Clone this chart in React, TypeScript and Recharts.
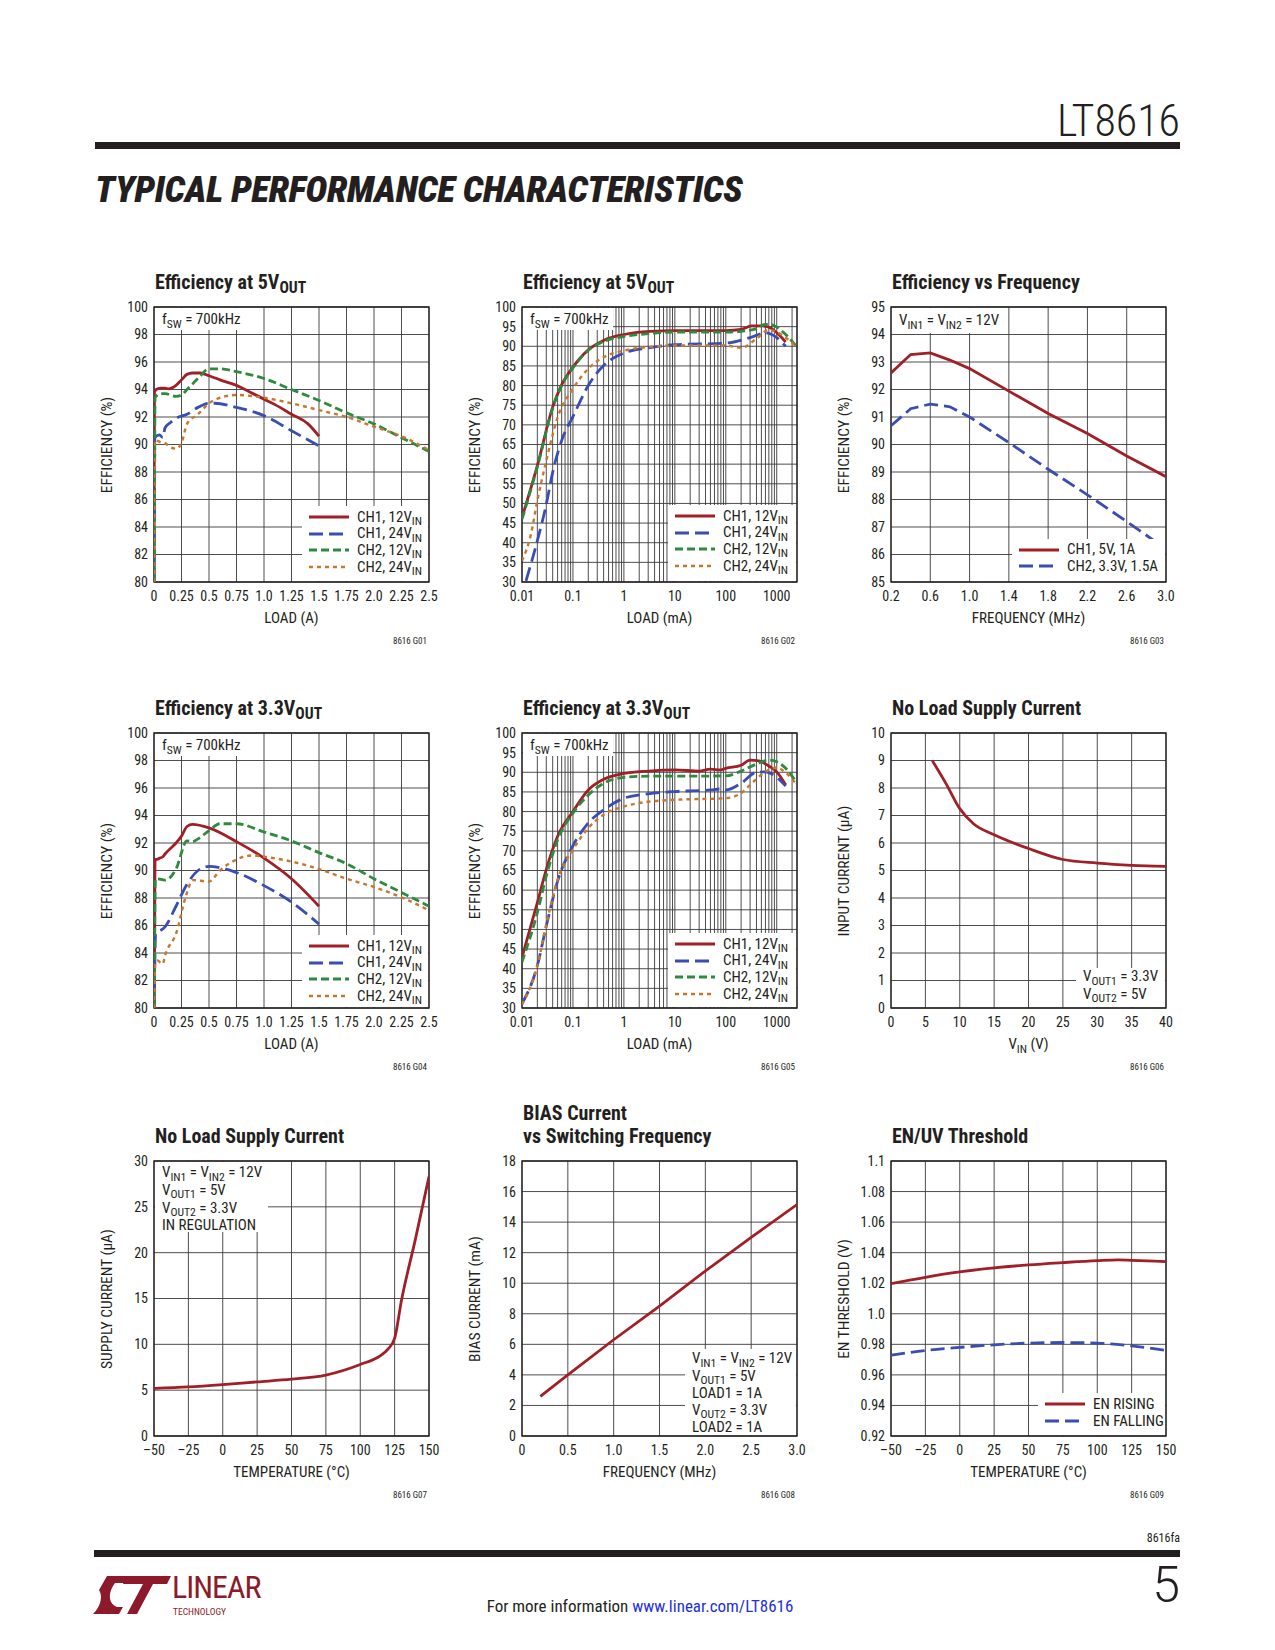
import React from "react";
import { LineChart, Line, XAxis, YAxis, CartesianGrid, Legend, ReferenceArea } from "recharts";

const FONT = "'Liberation Sans Narrow', 'Arial Narrow', 'Roboto Condensed', 'DejaVu Sans Condensed', sans-serif";
const INK = "#231f20";
const GRID = "#3a3a3a";
const RED = "#a11f27";
const BLUE = "#3a4db2";
const GREEN = "#2f8a40";
const ORANGE = "#c8772e";

type Pt = [number, number];

// G01 efficiency at 5Vout, linear load (A)
const g01Ch1Vin12: Pt[] = [[0, 80], [0.004, 93.8], [0.02, 94.0], [0.06, 94.1], [0.1, 94.1], [0.13, 94.05], [0.2, 94.3], [0.25, 94.7], [0.3, 95.1], [0.35, 95.2], [0.42, 95.2], [0.5, 95.0], [0.6, 94.7], [0.75, 94.3], [0.9, 93.7], [1.0, 93.3], [1.1, 92.9], [1.25, 92.2], [1.4, 91.5], [1.5, 90.6]];
const g01Ch1Vin24: Pt[] = [[0.002, 80], [0.008, 90.5], [0.02, 90.6], [0.05, 90.7], [0.08, 90.5], [0.1, 91.2], [0.15, 91.6], [0.2, 91.9], [0.3, 92.2], [0.4, 92.7], [0.5, 93.0], [0.55, 93.0], [0.75, 92.7], [1.0, 92.1], [1.25, 91.0], [1.5, 89.9]];
const g01Ch2Vin12: Pt[] = [[0.003, 80], [0.01, 93.4], [0.03, 93.6], [0.06, 93.7], [0.1, 93.7], [0.2, 93.5], [0.25, 93.6], [0.3, 94.0], [0.4, 94.8], [0.5, 95.5], [0.6, 95.5], [0.75, 95.3], [1.0, 94.8], [1.25, 94.0], [1.5, 93.2], [1.75, 92.3], [2.0, 91.5], [2.25, 90.5], [2.5, 89.5]];
const g01Ch2Vin24: Pt[] = [[0.001, 80], [0.006, 90.3], [0.02, 90.3], [0.05, 90.2], [0.1, 90.1], [0.15, 89.8], [0.2, 89.7], [0.25, 90.1], [0.3, 91.5], [0.4, 92.2], [0.5, 93.0], [0.6, 93.4], [0.75, 93.6], [1.0, 93.4], [1.25, 93.0], [1.5, 92.5], [1.75, 92.0], [2.0, 91.3], [2.25, 90.6], [2.5, 89.6]];

// G02 efficiency at 5Vout, log load (mA)
const g02Ch1Vin12: Pt[] = [[0.01, 46.4], [0.02, 59.6], [0.04, 74.5], [0.057, 79.6], [0.1, 84.7], [0.2, 89.1], [0.4, 91.5], [1, 93.0], [3.3, 93.8], [10, 94.0], [100, 94.0], [200, 94.3], [320, 95.2], [530, 95.2], [800, 94.5], [1130, 92.8], [1500, 91.1]];
const g02Ch1Vin24: Pt[] = [[0.012, 30.3], [0.02, 40.5], [0.03, 49.8], [0.04, 57.9], [0.06, 66], [0.1, 72.1], [0.2, 80.0], [0.4, 85.1], [1, 88.3], [3, 89.6], [10, 90.4], [100, 90.8], [300, 92.2], [600, 93.4], [1000, 92.2], [1500, 90.0]];
const g02Ch2Vin12: Pt[] = [[0.01, 46], [0.02, 59.3], [0.04, 74.2], [0.06, 80.0], [0.1, 84.5], [0.2, 89.0], [0.4, 91.2], [1, 92.5], [3, 93.2], [10, 93.6], [100, 93.6], [200, 93.8], [400, 94.5], [600, 95.6], [800, 95.5], [1000, 94.9], [1500, 93.0], [2500, 89.8]];
const g02Ch2Vin24: Pt[] = [[0.01, 35.4], [0.015, 42.2], [0.02, 50.7], [0.03, 60.9], [0.05, 71.9], [0.1, 79.2], [0.2, 84.3], [0.4, 87.2], [1, 88.9], [3, 89.8], [10, 90.2], [100, 90.2], [200, 89.6], [400, 91.9], [700, 94.2], [1000, 93.6], [2500, 89.8]];

// G03 efficiency vs frequency (MHz)
const g03Ch1: Pt[] = [[0.2, 92.6], [0.4, 93.27], [0.6, 93.33], [0.8, 93.07], [1.0, 92.76], [1.4, 91.94], [1.8, 91.13], [2.2, 90.4], [2.6, 89.58], [3.0, 88.83]];
const g03Ch2: Pt[] = [[0.2, 90.68], [0.4, 91.3], [0.6, 91.47], [0.8, 91.37], [1.0, 91.0], [1.4, 90.07], [1.8, 89.1], [2.2, 88.17], [2.6, 87.2], [3.0, 86.2]];

// G04 efficiency at 3.3Vout, linear load (A)
const g04Ch1Vin12: Pt[] = [[0.004, 80], [0.01, 90.8], [0.02, 90.8], [0.05, 90.9], [0.08, 91.0], [0.1, 91.2], [0.2, 92.0], [0.25, 92.5], [0.3, 93.2], [0.35, 93.35], [0.5, 93.1], [0.75, 92.1], [1.0, 90.9], [1.25, 89.4], [1.5, 87.4]];
const g04Ch1Vin24: Pt[] = [[0.002, 80], [0.015, 85.4], [0.03, 85.5], [0.1, 85.9], [0.2, 87.4], [0.3, 89.0], [0.4, 90.0], [0.5, 90.3], [0.6, 90.2], [0.75, 89.85], [1.0, 88.9], [1.25, 87.7], [1.5, 86.1]];
const g04Ch2Vin12: Pt[] = [[0.003, 80], [0.012, 89.4], [0.03, 89.4], [0.1, 89.3], [0.2, 90.1], [0.3, 92.15], [0.35, 92.1], [0.4, 92.3], [0.5, 92.9], [0.6, 93.4], [0.75, 93.4], [1.0, 92.8], [1.25, 92.15], [1.5, 91.3], [1.75, 90.5], [2.0, 89.4], [2.25, 88.4], [2.5, 87.4]];
const g04Ch2Vin24: Pt[] = [[0.001, 80], [0.01, 83.2], [0.03, 83.45], [0.08, 83.2], [0.1, 83.8], [0.2, 85.4], [0.3, 88.4], [0.35, 89.3], [0.5, 89.2], [0.6, 90.0], [0.75, 90.8], [0.9, 91.1], [1.0, 91.0], [1.25, 90.65], [1.5, 90.1], [1.75, 89.4], [2.0, 88.8], [2.25, 88.05], [2.5, 87.1]];

// G05 efficiency at 3.3Vout, log load (mA)
const g05Ch1Vin12: Pt[] = [[0.01, 42.9], [0.02, 56.8], [0.03, 65.3], [0.05, 73.7], [0.1, 80.0], [0.2, 85.5], [0.4, 88.2], [1, 89.7], [3, 90.3], [10, 90.6], [30, 90.3], [50, 90.8], [80, 90.6], [100, 91.0], [200, 91.8], [300, 93.1], [450, 92.9], [700, 91.6], [1000, 90.1], [1500, 86.8]];
const g05Ch1Vin24: Pt[] = [[0.01, 31.1], [0.02, 40.8], [0.03, 50.9], [0.05, 62.3], [0.1, 71.3], [0.2, 77.1], [0.4, 80.4], [1, 83.4], [3, 84.5], [10, 85.1], [50, 85.5], [80, 85.75], [100, 85.5], [200, 87.2], [400, 90.0], [600, 90.1], [1000, 88.7], [1500, 86.5]];
const g05Ch2Vin12: Pt[] = [[0.01, 41.7], [0.02, 54.3], [0.03, 63.6], [0.05, 72.8], [0.1, 79.6], [0.2, 84.2], [0.4, 87.2], [1, 88.7], [3, 89.0], [10, 89.0], [100, 89.1], [200, 90.3], [400, 92.1], [700, 93.1], [1000, 92.7], [1500, 91.0], [2500, 87.2]];
const g05Ch2Vin24: Pt[] = [[0.01, 30.9], [0.02, 40.8], [0.03, 51.3], [0.05, 62.7], [0.1, 70.3], [0.2, 75.8], [0.4, 79.2], [1, 81.3], [3, 82.5], [10, 83.0], [100, 83.4], [200, 84.7], [300, 86.8], [600, 90.1], [1000, 91.2], [1500, 89.9], [2500, 86.8]];

// G06 no load supply current vs VIN
const g06Iq: Pt[] = [[6, 9.0], [8, 8.16], [10, 7.25], [12, 6.7], [15, 6.3], [20, 5.8], [25, 5.4], [30, 5.27], [35, 5.19], [40, 5.15]];

// G07 no load supply current vs temperature
const g07Iq: Pt[] = [[-50, 5.2], [-25, 5.35], [0, 5.6], [25, 5.9], [50, 6.2], [75, 6.65], [100, 7.8], [115, 8.8], [120, 9.45], [125, 10.65], [130, 14.8], [140, 21.4], [150, 28.3]];

// G08 bias current vs switching frequency
const g08Bias: Pt[] = [[0.2, 2.6], [0.5, 4.0], [1.0, 6.3], [1.5, 8.5], [2.0, 10.8], [2.5, 13.0], [3.0, 15.15]];

// G09 EN/UV threshold vs temperature
const g09Rising: Pt[] = [[-50, 1.0197], [-25, 1.0239], [0, 1.0274], [25, 1.030], [50, 1.032], [75, 1.0335], [100, 1.0348], [115, 1.0353], [125, 1.035], [150, 1.0342]];
const g09Falling: Pt[] = [[-50, 0.9729], [-25, 0.976], [0, 0.978], [25, 0.9797], [50, 0.9808], [75, 0.9812], [100, 0.9808], [125, 0.979], [150, 0.976]];

// tick values
const loadTicks = [0, 0.25, 0.5, 0.75, 1, 1.25, 1.5, 1.75, 2, 2.25, 2.5];
const eff80Ticks = [80, 82, 84, 86, 88, 90, 92, 94, 96, 98, 100];
const eff30Ticks = [30, 35, 40, 45, 50, 55, 60, 65, 70, 75, 80, 85, 90, 95, 100];
const decades = [0.01, 0.1, 1, 10, 100, 1000];
const logTicks = decades.flatMap((d) => [1, 2, 3, 4, 5, 6, 7, 8, 9].map((k) => +(k * d).toPrecision(3))).filter((v) => v <= 2500);
const fswTicks = [0.2, 0.6, 1.0, 1.4, 1.8, 2.2, 2.6, 3.0];
const eff85Ticks = [85, 86, 87, 88, 89, 90, 91, 92, 93, 94, 95];
const vinTicks = [0, 5, 10, 15, 20, 25, 30, 35, 40];
const iq10Ticks = [0, 1, 2, 3, 4, 5, 6, 7, 8, 9, 10];
const tempTicks = [-50, -25, 0, 25, 50, 75, 100, 125, 150];
const iq30Ticks = [0, 5, 10, 15, 20, 25, 30];
const freq3Ticks = [0, 0.5, 1.0, 1.5, 2.0, 2.5, 3.0];
const biasTicks = [0, 2, 4, 6, 8, 10, 12, 14, 16, 18];
const enTicks = [0.92, 0.94, 0.96, 0.98, 1.0, 1.02, 1.04, 1.06, 1.08, 1.1];

const PW = 275;
const PH = 275;

const Sub = ({ children }: { children: React.ReactNode }) => (
  <span style={{ fontSize: "0.78em", position: "relative", top: "0.3em" }}>{children}</span>
);

type Series = { name: string; sub: string; data: Pt[]; color: string; dash?: string; width?: number; curve?: "monotone" | "linear" };
type Box = { x: number; y: number; w: number; h: number };
type Note = Box & { lines: React.ReactNode[]; lh: number; pad: number };

type PanelProps = {
  left: number;
  top: number;
  title: React.ReactNode[];
  code: string;
  xLabel: React.ReactNode;
  yLabel: string;
  xDomain: [number, number];
  yDomain: [number, number];
  xTicks: number[];
  yTicks: number[];
  xFmt?: (v: number) => string;
  yFmt?: (v: number) => string;
  log?: boolean;
  series: Series[];
  legend?: Box & { row: number };
  note?: Note;
};

const rows = (pts: Pt[]) => pts.map(([x, y]) => ({ x, y }));
const tickStyle = { fill: INK, fontSize: 14, fontFamily: FONT };

const ch = {
  c1v12: { name: "CH1, 12V", sub: "IN", color: RED, width: 2.8 },
  c1v24: { name: "CH1, 24V", sub: "IN", color: BLUE, width: 2.8, dash: "14 6" },
  c2v12: { name: "CH2, 12V", sub: "IN", color: GREEN, width: 2.8, dash: "8 4" },
  c2v24: { name: "CH2, 24V", sub: "IN", color: ORANGE, width: 2.4, dash: "4 4" },
};

function LegendBox({ items, row, w, h }: { items: Series[]; row: number; w: number; h: number }) {
  return (
    <div style={{ background: "#fff", width: w, height: h, boxSizing: "border-box", paddingTop: 2.7, paddingLeft: 7, fontFamily: FONT, color: INK }}>
      {items.map((s) => (
        <div key={s.name + s.sub} style={{ display: "flex", alignItems: "center", height: row, whiteSpace: "nowrap" }}>
          <svg width={40} height={8} style={{ flex: "none" }}>
            <line x1={0} y1={4} x2={40} y2={4} stroke={s.color} strokeWidth={s.width ?? 2.8} strokeDasharray={s.dash} />
          </svg>
          <span style={{ marginLeft: 8, fontSize: 15, lineHeight: 1 }}>
            {s.name}
            <Sub>{s.sub}</Sub>
          </span>
        </div>
      ))}
    </div>
  );
}

function Panel(p: PanelProps) {
  const { left, top } = p;
  const n = p.title.length;
  return (
    <>
      <div style={{ position: "absolute", left: left + 1, top: top - 36.5 - (n - 1) * 23, font: `bold 20px/23px ${FONT}`, color: INK, whiteSpace: "nowrap" }}>
        {p.title.map((t, i) => (
          <div key={i}>{t}</div>
        ))}
      </div>
      <div style={{ position: "absolute", left: left - 60, top: top - 10 }}>
        <LineChart width={60 + PW + 12} height={10 + PH + 40} margin={{ top: 10, right: 12, bottom: 0, left: 0 }}>
          <CartesianGrid stroke={GRID} strokeWidth={0.9} />
          <XAxis
            type="number"
            dataKey="x"
            scale={p.log ? "log" : "linear"}
            domain={p.xDomain}
            ticks={p.xTicks}
            tickFormatter={p.xFmt}
            interval={0}
            allowDataOverflow
            height={40}
            axisLine={false}
            tickLine={false}
            tickSize={4}
            tickMargin={5}
            tick={tickStyle}
          />
          <YAxis
            type="number"
            domain={p.yDomain}
            ticks={p.yTicks}
            tickFormatter={p.yFmt}
            interval={0}
            allowDataOverflow
            width={60}
            axisLine={false}
            tickLine={false}
            tickSize={4}
            tickMargin={2}
            tick={tickStyle}
          />
          <ReferenceArea x1={p.xDomain[0]} x2={p.xDomain[1]} y1={p.yDomain[0]} y2={p.yDomain[1]} fill="none" stroke={INK} strokeWidth={1.3} />
          {p.series.map((s) => (
            <Line
              key={s.name + s.sub}
              name={s.name + s.sub}
              data={rows(s.data)}
              dataKey="y"
              type={s.curve ?? "monotone"}
              stroke={s.color}
              strokeWidth={s.width ?? 2.8}
              strokeDasharray={s.dash}
              dot={false}
              activeDot={false}
              isAnimationActive={false}
            />
          ))}
          {p.legend && (
            <Legend
              layout="vertical"
              align="center"
              verticalAlign="middle"
              wrapperStyle={{ left: 60 + p.legend.x, top: 10 + p.legend.y, width: p.legend.w, height: p.legend.h }}
              content={() => <LegendBox items={p.series} row={p.legend!.row} w={p.legend!.w} h={p.legend!.h} />}
            />
          )}
        </LineChart>
      </div>
      {p.note && (
        <div
          style={{
            position: "absolute",
            left: left + p.note.x,
            top: top + p.note.y,
            width: p.note.w,
            height: p.note.h,
            boxSizing: "border-box",
            background: "#fff",
            paddingLeft: 7,
            paddingTop: p.note.pad,
            font: `15px/${p.note.lh}px ${FONT}`,
            color: INK,
            whiteSpace: "nowrap",
          }}
        >
          {p.note.lines.map((l, i) => (
            <div key={i}>{l}</div>
          ))}
        </div>
      )}
      <div style={{ position: "absolute", left: left + PW / 2, top: top + PH + 36, transform: "translate(-50%, -50%)", font: `15px ${FONT}`, color: INK, whiteSpace: "nowrap" }}>
        {p.xLabel}
      </div>
      <div style={{ position: "absolute", left: left - 47, top: top + PH / 2, transform: "translate(-50%, -50%) rotate(-90deg)", font: `15.5px ${FONT}`, color: INK, whiteSpace: "nowrap" }}>
        {p.yLabel}
      </div>
      <div style={{ position: "absolute", left: left + PW - 62, width: 60, textAlign: "right", top: top + PH + 54, font: `9px ${FONT}`, color: INK }}>
        {p.code}
      </div>
    </>
  );
}

const loadFmt = (v: number) => (v === 0 ? "0" : Number.isInteger(v * 2) ? v.toFixed(1) : String(v));
const logFmt = (v: number) => (decades.includes(v) ? String(v) : "");
const fix1 = (v: number) => v.toFixed(1);
const freqFmt = (v: number) => (v === 0 ? "0" : v.toFixed(1));
const tempFmt = (v: number) => (v < 0 ? "\u2013" + Math.abs(v) : String(v));
const enFmt = (v: number) => {
  const s = v.toFixed(2);
  return s === "1.00" ? "1.0" : s === "1.10" ? "1.1" : s;
};

const fswNote: Note = { x: 1, y: 1, w: 88, h: 22, lh: 22, pad: 0, lines: [<>f<Sub>SW</Sub> = 700kHz</>] };
const effLegend = { x: 148, y: 199, w: 126, h: 75, row: 16.7 };

export default function App() {
  return (
    <div style={{ position: "absolute", left: 0, top: 0, width: 1275, height: 1650, background: "#fff", overflow: "hidden", fontFamily: FONT, color: INK }}>
      <div style={{ position: "absolute", right: 95, top: 99, font: `300 44px/44px ${FONT}`, color: INK }}>LT8616</div>
      <div style={{ position: "absolute", left: 95, top: 142, width: 1085, height: 7, background: INK }} />
      <div style={{ position: "absolute", left: 95, top: 171, font: `italic 900 37px/37px ${FONT}`, color: INK, whiteSpace: "nowrap", letterSpacing: -0.3 }}>
        TYPICAL PERFORMANCE CHARACTERISTICS
      </div>

      <Panel
        left={154}
        top={307}
        title={[<>Efficiency at 5V<Sub>OUT</Sub></>]}
        code="8616 G01"
        xLabel="LOAD (A)"
        yLabel="EFFICIENCY (%)"
        xDomain={[0, 2.5]}
        yDomain={[80, 100]}
        xTicks={loadTicks}
        yTicks={eff80Ticks}
        xFmt={loadFmt}
        series={[
          { ...ch.c1v12, data: g01Ch1Vin12 },
          { ...ch.c1v24, data: g01Ch1Vin24 },
          { ...ch.c2v12, data: g01Ch2Vin12 },
          { ...ch.c2v24, data: g01Ch2Vin24 },
        ]}
        legend={effLegend}
        note={fswNote}
      />
      <Panel
        left={522}
        top={307}
        title={[<>Efficiency at 5V<Sub>OUT</Sub></>]}
        code="8616 G02"
        xLabel="LOAD (mA)"
        yLabel="EFFICIENCY (%)"
        xDomain={[0.01, 2500]}
        yDomain={[30, 100]}
        xTicks={logTicks}
        yTicks={eff30Ticks}
        xFmt={logFmt}
        log
        series={[
          { ...ch.c1v12, data: g02Ch1Vin12 },
          { ...ch.c1v24, data: g02Ch1Vin24 },
          { ...ch.c2v12, data: g02Ch2Vin12 },
          { ...ch.c2v24, data: g02Ch2Vin24 },
        ]}
        legend={{ x: 146, y: 198, w: 128, h: 76, row: 16.7 }}
        note={{ ...fswNote, w: 90 }}
      />
      <Panel
        left={891}
        top={307}
        title={["Efficiency vs Frequency"]}
        code="8616 G03"
        xLabel="FREQUENCY (MHz)"
        yLabel="EFFICIENCY (%)"
        xDomain={[0.2, 3.0]}
        yDomain={[85, 95]}
        xTicks={fswTicks}
        yTicks={eff85Ticks}
        xFmt={fix1}
        series={[
          { name: "CH1, 5V, 1A", sub: "", data: g03Ch1, color: RED, width: 2.8, curve: "linear" },
          { name: "CH2, 3.3V, 1.5A", sub: "", data: g03Ch2, color: BLUE, width: 2.8, dash: "14 6", curve: "linear" },
        ]}
        legend={{ x: 121, y: 232, w: 153, h: 42, row: 16.5 }}
        note={{ x: 1, y: 1, w: 111, h: 25, lh: 25, pad: 0, lines: [<>V<Sub>IN1</Sub> = V<Sub>IN2</Sub> = 12V</>] }}
      />

      <Panel
        left={154}
        top={733}
        title={[<>Efficiency at 3.3V<Sub>OUT</Sub></>]}
        code="8616 G04"
        xLabel="LOAD (A)"
        yLabel="EFFICIENCY (%)"
        xDomain={[0, 2.5]}
        yDomain={[80, 100]}
        xTicks={loadTicks}
        yTicks={eff80Ticks}
        xFmt={loadFmt}
        series={[
          { ...ch.c1v12, data: g04Ch1Vin12 },
          { ...ch.c1v24, data: g04Ch1Vin24 },
          { ...ch.c2v12, data: g04Ch2Vin12 },
          { ...ch.c2v24, data: g04Ch2Vin24 },
        ]}
        legend={{ x: 148, y: 202, w: 126, h: 72, row: 16.7 }}
        note={fswNote}
      />
      <Panel
        left={522}
        top={733}
        title={[<>Efficiency at 3.3V<Sub>OUT</Sub></>]}
        code="8616 G05"
        xLabel="LOAD (mA)"
        yLabel="EFFICIENCY (%)"
        xDomain={[0.01, 2500]}
        yDomain={[30, 100]}
        xTicks={logTicks}
        yTicks={eff30Ticks}
        xFmt={logFmt}
        log
        series={[
          { ...ch.c1v12, data: g05Ch1Vin12 },
          { ...ch.c1v24, data: g05Ch1Vin24 },
          { ...ch.c2v12, data: g05Ch2Vin12 },
          { ...ch.c2v24, data: g05Ch2Vin24 },
        ]}
        legend={{ x: 146, y: 200, w: 128, h: 74, row: 16.7 }}
        note={{ ...fswNote, w: 90 }}
      />
      <Panel
        left={891}
        top={733}
        title={["No Load Supply Current"]}
        code="8616 G06"
        xLabel={<>V<Sub>IN</Sub> (V)</>}
        yLabel="INPUT CURRENT (µA)"
        xDomain={[0, 40]}
        yDomain={[0, 10]}
        xTicks={vinTicks}
        yTicks={iq10Ticks}
        series={[{ name: "IQ", sub: "", data: g06Iq, color: RED, width: 2.8 }]}
        note={{ x: 185, y: 235, w: 89, h: 39, lh: 16.5, pad: 0, lines: [<>V<Sub>OUT1</Sub> = 3.3V</>, <>V<Sub>OUT2</Sub> = 5V</>] }}
      />

      <Panel
        left={154}
        top={1161}
        title={["No Load Supply Current"]}
        code="8616 G07"
        xLabel="TEMPERATURE (°C)"
        yLabel="SUPPLY CURRENT (µA)"
        xDomain={[-50, 150]}
        yDomain={[0, 30]}
        xTicks={tempTicks}
        yTicks={iq30Ticks}
        xFmt={tempFmt}
        series={[{ name: "IQ", sub: "", data: g07Iq, color: RED, width: 2.8 }]}
        note={{
          x: 1,
          y: 1,
          w: 113,
          h: 70,
          lh: 16.8,
          pad: 2,
          lines: [<>V<Sub>IN1</Sub> = V<Sub>IN2</Sub> = 12V</>, <>V<Sub>OUT1</Sub> = 5V</>, <>V<Sub>OUT2</Sub> = 3.3V</>, "IN REGULATION"],
        }}
      />
      <Panel
        left={522}
        top={1161}
        title={["BIAS Current", "vs Switching Frequency"]}
        code="8616 G08"
        xLabel="FREQUENCY (MHz)"
        yLabel="BIAS CURRENT (mA)"
        xDomain={[0, 3.0]}
        yDomain={[0, 18]}
        xTicks={freq3Ticks}
        yTicks={biasTicks}
        xFmt={freqFmt}
        series={[{ name: "BIAS", sub: "", data: g08Bias, color: RED, width: 2.8, curve: "linear" }]}
        note={{
          x: 163,
          y: 188,
          w: 111,
          h: 86,
          lh: 16.5,
          pad: 1,
          lines: [<>V<Sub>IN1</Sub> = V<Sub>IN2</Sub> = 12V</>, <>V<Sub>OUT1</Sub> = 5V</>, "LOAD1 = 1A", <>V<Sub>OUT2</Sub> = 3.3V</>, "LOAD2 = 1A"],
        }}
      />
      <Panel
        left={891}
        top={1161}
        title={["EN/UV Threshold"]}
        code="8616 G09"
        xLabel="TEMPERATURE (°C)"
        yLabel="EN THRESHOLD (V)"
        xDomain={[-50, 150]}
        yDomain={[0.92, 1.1]}
        xTicks={tempTicks}
        yTicks={enTicks}
        xFmt={tempFmt}
        yFmt={enFmt}
        series={[
          { name: "EN RISING", sub: "", data: g09Rising, color: RED, width: 2.8 },
          { name: "EN FALLING", sub: "", data: g09Falling, color: BLUE, width: 2.8, dash: "14 6" },
        ]}
        legend={{ x: 147, y: 232, w: 127, h: 42, row: 17 }}
      />

      <div style={{ position: "absolute", right: 95, top: 1531, font: `12px ${FONT}`, color: INK }}>8616fa</div>
      <div style={{ position: "absolute", left: 94, top: 1550, width: 1086, height: 7, background: INK }} />
      <svg style={{ position: "absolute", left: 93, top: 1576 }} width={80} height={38}>
        <path d="M14 0 L40 0 L36 7 L22 7 C14 18 16 28 24 31 L30 31 L26 38 L0 38 C8 30 10 20 6 14 Z" fill="#8c1a2a" />
        <path d="M34 0 L78 0 L74 8 L60 8 L44 38 L34 38 L50 8 L30 8 Z" fill="#8c1a2a" />
      </svg>
      <div style={{ position: "absolute", left: 172, top: 1574, font: `32px/26px ${FONT}`, color: "#8c1a2a", letterSpacing: -1 }}>LINEAR</div>
      <div style={{ position: "absolute", left: 173, top: 1607, font: `9.5px/9.5px ${FONT}`, color: "#8c1a2a" }}>TECHNOLOGY</div>
      <div style={{ position: "absolute", left: 640, top: 1596, transform: "translateX(-50%)", font: `17px ${FONT}`, color: INK, whiteSpace: "nowrap" }}>
        For more information <span style={{ color: "#1f2fe0" }}>www.linear.com/LT8616</span>
      </div>
      <div style={{ position: "absolute", right: 95, top: 1560, font: `300 50px/50px Roboto, ${FONT}`, color: INK }}>5</div>
    </div>
  );
}
